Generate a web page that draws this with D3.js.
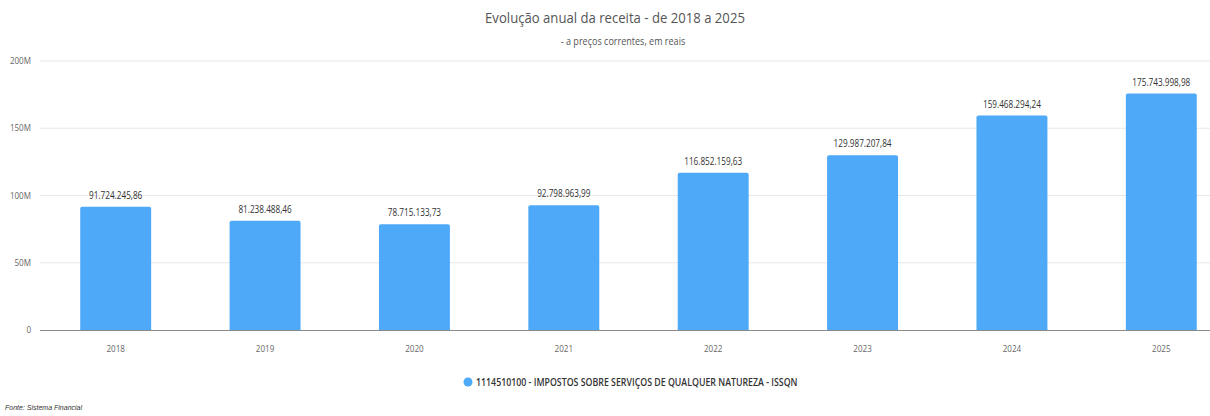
<!DOCTYPE html>
<html><head><meta charset="utf-8">
<script src="https://cdn.jsdelivr.net/npm/d3@7"></script>
<style>body{margin:0;background:#fff;} svg{display:block;}</style>
</head><body>
<svg id="chart" width="1210" height="416"></svg>
<script>
const years = ["2018","2019","2020","2021","2022","2023","2024","2025"];
const values = [91724245.86, 81238488.46, 78715133.73, 92798963.99, 116852159.63, 129987207.84, 159468294.24, 175743998.98];
const valueLabels = ["91.724.245,86","81.238.488,46","78.715.133,73","92.798.963,99","116.852.159,63","129.987.207,84","159.468.294,24","175.743.998,98"];
const yTicks = [0, 50e6, 100e6, 150e6, 200e6];
const yTickLabels = ["0","50M","100M","150M","200M"];
const title = "Evolução anual da receita - de 2018 a 2025";
const subtitle = "- a preços correntes, em reais";
const seriesName = "1114510100 - IMPOSTOS SOBRE SERVIÇOS DE QUALQUER NATUREZA - ISSQN";
const source = "Fonte: Sistema Financial";

const svg = d3.select("#chart");
const font = "'Open Sans', sans-serif";
const barColor = "#4ea9f8";

function squeeze(sel, f){
  sel.each(function(){ const w=this.getComputedTextLength(); d3.select(this).attr("textLength", w*f).attr("lengthAdjust","spacingAndGlyphs"); });
}

const x = d3.scaleBand().domain(years).range([41, 1236]).paddingInner(0.525).paddingOuter(0.2625);
const y = d3.scaleLinear().domain([0, 200e6]).range([330, 61]);

// grid
svg.append("g").selectAll("line").data(yTicks.slice(1)).join("line")
  .attr("x1", 40).attr("x2", 1210).attr("y1", d=>y(d)).attr("y2", d=>y(d))
  .attr("stroke", "#e8e8e8").attr("stroke-width", 1);

// y labels
const yl = svg.append("g").selectAll("text").data(yTicks).join("text")
  .attr("x", 31).attr("y", d=>y(d)+3).attr("text-anchor","end")
  .attr("font-family", font).attr("font-size", 9.5).attr("fill","#666")
  .text((d,i)=>yTickLabels[i]);
squeeze(yl, 0.85);

// bars
const r = 2;
svg.append("g").selectAll("path").data(values).join("path")
  .attr("d", (d,i)=>{
    const x0 = x(years[i]), w = x.bandwidth(), y0 = y(d), y1 = y(0);
    return `M${x0},${y1}V${y0+r}Q${x0},${y0} ${x0+r},${y0}H${x0+w-r}Q${x0+w},${y0} ${x0+w},${y0+r}V${y1}Z`;
  })
  .attr("fill", barColor);

// axis line
svg.append("line").attr("x1", 40).attr("x2", 1210).attr("y1", y(0)+0.5).attr("y2", y(0)+0.5)
  .attr("stroke", "#8a8a8a").attr("stroke-width", 1.2);

// value labels
const vl = svg.append("g").selectAll("text").data(values).join("text")
  .attr("x", (d,i)=>x(years[i])+x.bandwidth()/2).attr("y", d=>y(d)-8)
  .attr("text-anchor","middle").attr("font-family", font).attr("font-size", 10.5).attr("fill","#333")
  .text((d,i)=>valueLabels[i]);
squeeze(vl, 0.78);

// x labels
const xl = svg.append("g").selectAll("text").data(years).join("text")
  .attr("x", d=>x(d)+x.bandwidth()/2).attr("y", 352)
  .attr("text-anchor","middle").attr("font-family", font).attr("font-size", 9.5).attr("fill","#666")
  .text(d=>d);
squeeze(xl, 0.85);

// title
const t1 = svg.append("text").attr("x", 615).attr("y", 23).attr("text-anchor","middle")
  .attr("font-family", font).attr("font-size", 15).attr("fill","#555").text(title);
squeeze(t1, 0.875);
const t2 = svg.append("text").attr("x", 623).attr("y", 45).attr("text-anchor","middle")
  .attr("font-family", font).attr("font-size", 10.5).attr("fill","#555").text(subtitle);
squeeze(t2, 0.86);

// legend
svg.append("circle").attr("cx", 468).attr("cy", 382).attr("r", 4.5).attr("fill", barColor);
const lt = svg.append("text").attr("x", 476).attr("y", 385.5)
  .attr("font-family", font).attr("font-size", 10).attr("font-weight", 600).attr("fill","#333").text(seriesName);
squeeze(lt, 0.88);

// source
svg.append("text").attr("x", 5).attr("y", 410)
  .attr("font-family", "'Liberation Sans', Arial, sans-serif").attr("font-size", 7).attr("font-style","italic")
  .attr("fill","#333").text(source);
</script>
</body></html>
